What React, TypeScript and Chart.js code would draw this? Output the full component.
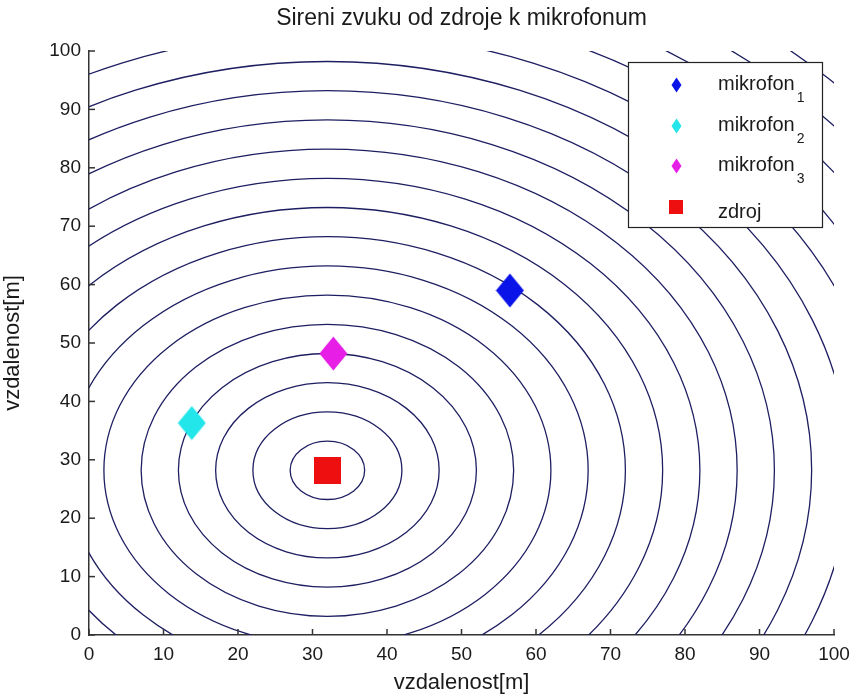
import React, { useEffect, useRef } from "react";
import { Chart, registerables } from "chart.js";

Chart.register(...registerables);

const titleText = "Sireni zvuku od zdroje k mikrofonum";
const xLabel = "vzdalenost[m]";
const yLabel = "vzdalenost[m]";
const axisTicks = [0, 10, 20, 30, 40, 50, 60, 70, 80, 90, 100];

const micLabels = ["mikrofon", "mikrofon", "mikrofon"];
const micSubscripts = ["1", "2", "3"];
const micX = [56.5, 13.8, 32.8];
const micY = [59.0, 36.3, 48.2];
const micColors = ["#0a14e8", "#22e6ea", "#e61ee6"];

const sourceLabel = "zdroj";
const sourceX = [32.0];
const sourceY = [28.2];
const sourceColor = "#ee1010";

const contourRadii = [5, 10, 15, 20, 25, 30, 35, 40, 45, 50, 55, 60, 65, 70, 75, 80, 85, 90, 95];

const FONT = "'Liberation Sans', Arial, sans-serif";
const TEXT = "#1a1a1a";
const CONTOUR = "#1e1e62";

function diamond(w: number, h: number, color: string) {
  const c = document.createElement("canvas");
  c.width = w;
  c.height = h;
  const g = c.getContext("2d")!;
  g.fillStyle = color;
  g.beginPath();
  g.moveTo(w / 2, 0.5);
  g.lineTo(w - 0.5, h / 2);
  g.lineTo(w / 2, h - 0.5);
  g.lineTo(0.5, h / 2);
  g.closePath();
  g.fill();
  return c;
}

function square(s: number, color: string) {
  const c = document.createElement("canvas");
  c.width = s;
  c.height = s;
  const g = c.getContext("2d")!;
  g.fillStyle = color;
  g.fillRect(0, 0, s, s);
  return c;
}

export default function App() {
  const ref = useRef<HTMLCanvasElement | null>(null);

  useEffect(() => {
    document.body.style.margin = "0";
    const canvas = ref.current!;
    const bigMic = micColors.map((c) => diamond(29, 35, c));
    const smallMic = micColors.map((c) => diamond(11, 16, c));
    const bigSrc = square(27, sourceColor);
    const smallSrc = square(14, sourceColor);

    const contourPlugin = {
      id: "contours",
      beforeDatasetsDraw(chart: any) {
        const { ctx, chartArea } = chart;
        const xs = chart.scales.x;
        const ys = chart.scales.y;
        ctx.save();
        ctx.beginPath();
        ctx.rect(chartArea.left, chartArea.top, chartArea.right - chartArea.left, chartArea.bottom - chartArea.top);
        ctx.clip();
        const cx = xs.getPixelForValue(sourceX[0]);
        const cy = ys.getPixelForValue(sourceY[0]);
        ctx.strokeStyle = CONTOUR;
        ctx.lineWidth = 1.3;
        for (const r of contourRadii) {
          const rx = xs.getPixelForValue(sourceX[0] + r) - cx;
          const ry = cy - ys.getPixelForValue(sourceY[0] + r);
          ctx.beginPath();
          ctx.ellipse(cx, cy, rx, ry, 0, 0, Math.PI * 2);
          ctx.stroke();
        }
        ctx.restore();
      },
    };

    const ticksPlugin = {
      id: "inwardTicks",
      afterDraw(chart: any) {
        const { ctx, chartArea } = chart;
        const xs = chart.scales.x;
        const ys = chart.scales.y;
        ctx.save();
        ctx.strokeStyle = "#333";
        ctx.lineWidth = 1.5;
        const len = 6;
        for (const v of axisTicks) {
          const px = xs.getPixelForValue(v);
          ctx.beginPath();
          ctx.moveTo(px, chartArea.bottom);
          ctx.lineTo(px, chartArea.bottom - len);
          ctx.stroke();
          const py = ys.getPixelForValue(v);
          ctx.beginPath();
          ctx.moveTo(chartArea.left, py);
          ctx.lineTo(chartArea.left + len, py);
          ctx.stroke();
        }
        ctx.restore();
      },
    };

    const legendPlugin = {
      id: "matlabLegend",
      afterDraw(chart: any) {
        const { ctx, chartArea } = chart;
        const w = 194;
        const h = 165;
        const left = chartArea.right - 12 - w;
        const top = chartArea.top + 11;
        ctx.save();
        ctx.fillStyle = "#ffffff";
        ctx.fillRect(left, top, w, h);
        ctx.strokeStyle = "#222";
        ctx.lineWidth = 1.2;
        ctx.strokeRect(left + 0.5, top + 0.5, w, h);
        const mx = left + 48;
        const tx = left + 90;
        const step = 40.5;
        ctx.fillStyle = TEXT;
        ctx.textAlign = "left";
        ctx.textBaseline = "alphabetic";
        micLabels.forEach((lab, i) => {
          const ry = top + 23 + i * step;
          const img = smallMic[i];
          ctx.drawImage(img, Math.round(mx - img.width / 2), Math.round(ry - img.height / 2));
          ctx.fillStyle = TEXT;
          ctx.font = `20px ${FONT}`;
          ctx.fillText(lab, tx, ry + 5);
          const wMain = ctx.measureText(lab).width;
          ctx.font = `14px ${FONT}`;
          ctx.fillText(micSubscripts[i], tx + wMain + 2, ry + 17);
        });
        const ry = top + 23 + 3 * step;
        ctx.drawImage(smallSrc, Math.round(mx - smallSrc.width / 2), Math.round(ry - smallSrc.height / 2));
        ctx.font = `20px ${FONT}`;
        ctx.fillText(sourceLabel, tx, ry + 11);
        ctx.restore();
      },
    };

    const datasets: any[] = micX.map((x, i) => ({
      label: micLabels[i] + micSubscripts[i],
      data: [{ x, y: micY[i] }],
      pointStyle: bigMic[i],
      pointRadius: 10,
      backgroundColor: micColors[i],
      borderColor: micColors[i],
      showLine: false,
    }));
    datasets.push({
      label: sourceLabel,
      data: [{ x: sourceX[0], y: sourceY[0] }],
      pointStyle: bigSrc,
      pointRadius: 10,
      backgroundColor: sourceColor,
      borderColor: sourceColor,
      showLine: false,
    });

    const tickFont = { family: FONT, size: 19 };
    const chart = new Chart(canvas, {
      type: "scatter",
      data: { datasets },
      plugins: [contourPlugin, ticksPlugin, legendPlugin],
      options: {
        animation: false,
        responsive: false,
        devicePixelRatio: 1,
        events: [],
        layout: { padding: { left: 0, right: 17, top: 0, bottom: 0 } },
        plugins: {
          legend: { display: false },
          tooltip: { enabled: false },
          title: {
            display: true,
            text: titleText,
            fullSize: false,
            color: TEXT,
            font: { family: FONT, size: 23, weight: "normal" },
            padding: { top: 5, bottom: 51 - 5 - 27.6 },
          },
        },
        scales: {
          x: {
            type: "linear",
            min: 0,
            max: 100,
            afterBuildTicks: (s: any) => {
              s.ticks = axisTicks.map((v) => ({ value: v }));
            },
            afterFit: (s: any) => {
              s.height = 61;
              s.paddingLeft = 0;
              s.paddingRight = 0;
            },
            ticks: { padding: 8, font: tickFont, color: TEXT, autoSkip: false, maxRotation: 0 },
            grid: { display: false, drawTicks: false },
            border: { display: true, color: "#333", width: 1.5 },
            title: {
              display: true,
              text: xLabel,
              color: TEXT,
              font: { family: FONT, size: 22 },
              padding: { top: 0, bottom: 0 },
            },
          },
          y: {
            type: "linear",
            min: 0,
            max: 100,
            afterBuildTicks: (s: any) => {
              s.ticks = axisTicks.map((v) => ({ value: v }));
            },
            afterFit: (s: any) => {
              s.width = 89;
              s.paddingTop = 0;
              s.paddingBottom = 0;
            },
            ticks: { padding: 8, font: tickFont, color: TEXT, autoSkip: false },
            grid: { display: false, drawTicks: false },
            border: { display: true, color: "#333", width: 1.5 },
            title: {
              display: true,
              text: yLabel,
              color: TEXT,
              font: { family: FONT, size: 22 },
              padding: { top: 0, bottom: 0 },
            },
          },
        },
      } as any,
    });
    return () => chart.destroy();
  }, []);

  return (
    <div style={{ position: "absolute", left: 0, top: 0, width: 851, height: 696, background: "#fff" }}>
      <canvas ref={ref} width={851} height={696} style={{ display: "block", width: 851, height: 696 }} />
    </div>
  );
}
